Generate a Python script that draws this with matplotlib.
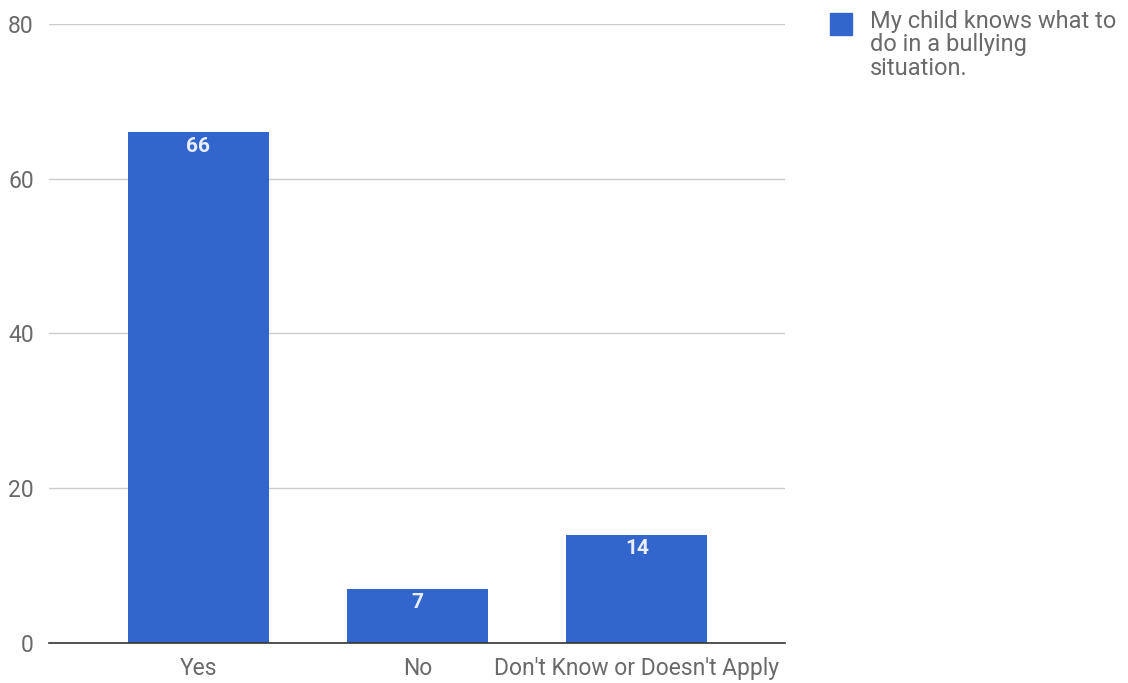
import matplotlib.pyplot as plt
from matplotlib.patches import Rectangle

categories = ["Yes", "No", "Don't Know or Doesn't Apply"]
counts = [66, 7, 14]
series_name = "My child knows what to\ndo in a bullying\nsituation."
yticks = [0, 20, 40, 60, 80]

plt.rcParams["font.family"] = ["Roboto", "DejaVu Sans"]

fig = plt.figure(figsize=(11.28, 6.83), dpi=100)
ax = fig.add_axes([0.0434, 0.0586, 0.6525, 0.9063])

x = range(len(categories))
bars = ax.bar(x, counts, width=0.643, color="#3366cc", zorder=2)

for b, v in zip(bars, counts):
    ax.annotate(str(v), (b.get_x() + b.get_width() / 2, v),
                xytext=(0, -10), textcoords="offset points",
                ha="center", va="center", color="#e8eef9",
                fontsize=15, fontweight="bold")

ax.set_xlim(-0.682, 2.675)
ax.set_ylim(0, 80)
ax.set_yticks(yticks)
ax.set_xticks(list(x))
ax.set_xticklabels(categories)
ax.grid(axis="y", color="#cccccc", linewidth=1, zorder=0)
for s in ["top", "right", "left"]:
    ax.spines[s].set_visible(False)
ax.spines["bottom"].set_color("#333333")
ax.spines["bottom"].set_linewidth(1.2)
ax.spines["bottom"].set_zorder(3)
ax.tick_params(axis="both", length=0, labelsize=16.5, colors="#6a6a6a")
ax.tick_params(axis="y", pad=11)
ax.tick_params(axis="x", pad=10)

# legend drawn by hand so the swatch sits next to the first line
fig.patches.append(Rectangle((830 / 1128, 1 - 35 / 683), 22 / 1128, 22 / 683,
                             transform=fig.transFigure, color="#3366cc"))
fig.text(870 / 1128, 1 - 10 / 683, series_name, ha="left", va="top",
         fontsize=17, color="#6a6a6a", linespacing=1.02)

fig.savefig("out.png", dpi=100)
